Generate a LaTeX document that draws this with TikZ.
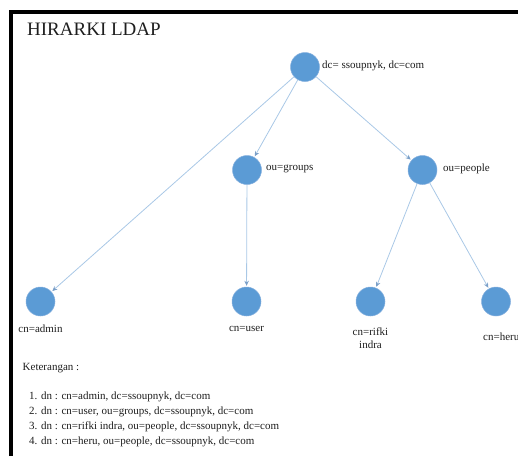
\documentclass[tikz,border=0pt]{standalone}
\usepackage{fontspec}
\setmainfont{Liberation Serif}
\usetikzlibrary{arrows.meta}
\definecolor{biru}{HTML}{5B9BD5}
\definecolor{birutepi}{HTML}{86B0DE}
\definecolor{garisbiru}{HTML}{A9C8E6}
\definecolor{ujungpanah}{HTML}{7A9FC8}
\definecolor{tinta}{HTML}{1E1E1E}
\tikzset{
  simpul/.style={circle,fill=biru,draw=birutepi,line width=0.5pt,inner sep=0pt,minimum size=29pt},
  garis/.style={draw=garisbiru,line width=0.8pt,-{Stealth[length=5pt,width=4.5pt,color=ujungpanah]},shorten >=1pt},
  teks/.style={font=\fontsize{11}{13}\selectfont,text=tinta,inner sep=0pt},
  judul/.style={font=\fontsize{19}{22}\selectfont,text=tinta,inner sep=0pt,anchor=west},
  bingkai/.style={line width=4pt,draw=black},
}
\begin{document}
\begin{tikzpicture}[x=1pt,y=-1pt]
\useasboundingbox (0,0) rectangle (518,456);
\draw[bingkai] (11.3,456) -- (11.3,12) -- (518,12);
\node[judul] (judul) at (27,29) {HIRARKI LDAP};
% simpul pohon
\node[simpul] (akar) at (305,67) {};
\node[simpul] (grup) at (247,170) {};
\node[simpul] (orang) at (422.5,170) {};
\node[simpul] (admin) at (40.5,301.5) {};
\node[simpul] (user) at (246.5,301.5) {};
\node[simpul] (rifki) at (370.5,301.5) {};
\node[simpul] (heru) at (496,301.5) {};
% label simpul
\node[teks,anchor=west] (tAkar) at (322,66) {dc= ssoupnyk, dc=com};
\node[teks,anchor=west] (tGrup) at (266,169) {ou=groups};
\node[teks,anchor=west] (tOrang) at (443,169) {ou=people};
\node[teks] (tAdmin) at (40.5,329) {cn=admin};
\node[teks] (tUser) at (246.5,329) {cn=user};
\node[teks,align=center] (tRifki) at (370.5,338) {cn=rifki\\indra};
\node[teks,anchor=west] (tHeru) at (483,337) {cn=heru};
% garis hubung
\draw[garis] (akar) -- (admin);
\draw[garis] (akar) -- (grup);
\draw[garis] (akar) -- (orang);
\draw[garis] (grup) -- (user);
\draw[garis] (orang) -- (rifki);
\draw[garis] (orang) -- (heru);
% keterangan
\node[teks,anchor=west] (ket) at (22.5,368) {Keterangan :};
\node[teks,anchor=west] (ket1) at (29,397) {1. dn : cn=admin, dc=ssoupnyk, dc=com};
\node[teks,anchor=west] (ket2) at (29,412) {2. dn : cn=user, ou=groups, dc=ssoupnyk, dc=com};
\node[teks,anchor=west] (ket3) at (29,427) {3. dn : cn=rifki indra, ou=people, dc=ssoupnyk, dc=com};
\node[teks,anchor=west] (ket4) at (29,442) {4. dn : cn=heru, ou=people, dc=ssoupnyk, dc=com};
\end{tikzpicture}
\end{document}
